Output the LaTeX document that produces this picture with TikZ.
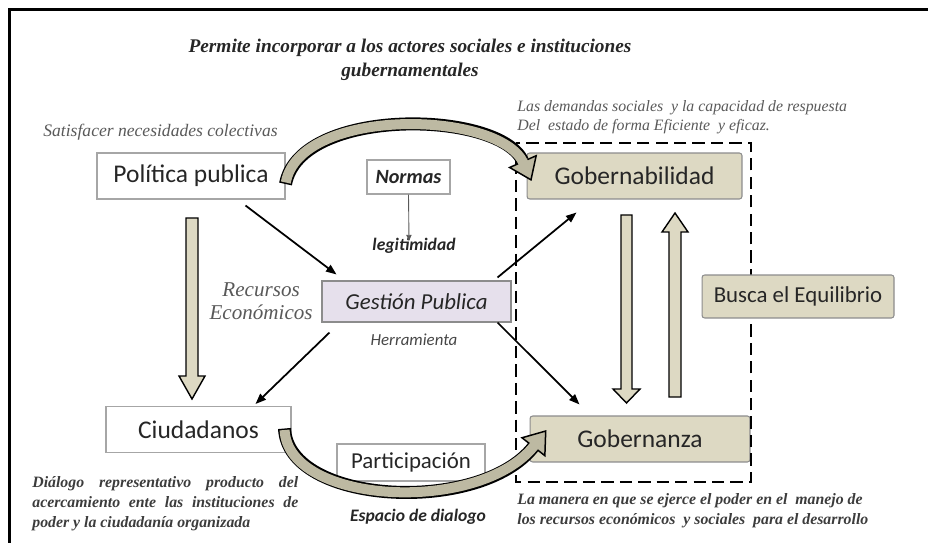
\documentclass[tikz,border=0pt]{standalone}
\usepackage{fontspec}
\setmainfont{Liberation Serif}
\newfontfamily\carlito{Carlito}
\usetikzlibrary{arrows.meta,calc}

\definecolor{tanc}{HTML}{DDD9C3}
\definecolor{lila}{HTML}{E6E0EC}
\definecolor{curvac}{HTML}{BDB9A2}
\definecolor{borde}{HTML}{A6A6A6}
\definecolor{bordeosc}{HTML}{8C8C8C}
\definecolor{negrot}{HTML}{262626}
\definecolor{grist}{HTML}{595959}

\tikzset{
  caja/.style={draw=borde, fill=white, line width=0.6pt, inner sep=0pt,
    text=negrot, font=\carlito\fontsize{14.5}{17}\selectfont},
  cajatan/.style={caja, fill=tanc, draw=bordeosc, rounded corners=1.5pt},
  flecha/.style={line width=1pt, -{Triangle[length=6pt,width=4.5pt]}},
  bloque/.style={draw=black, fill=tanc, line width=0.8pt},
  curvaborde/.style={line width=7.4pt, draw=black,
    -{Triangle[length=12.5pt,width=18pt,fill=curvac,line width=0.85pt]}},
  curvarelleno/.style={line width=5.7pt, draw=curvac, shorten >=11pt, shorten <=0.85pt},
  nota/.style={inner sep=0pt, text=grist, font=\itshape\fontsize{10}{12}\selectfont},
  notanegra/.style={inner sep=0pt, text=negrot!90, font=\bfseries\itshape\fontsize{9}{11.3}\selectfont},
  sansnota/.style={inner sep=0pt, text=negrot, font=\carlito\bfseries\itshape\fontsize{10}{12}\selectfont}
}

\begin{document}
\begin{tikzpicture}[x=0.02cm,y=-0.02cm]
\useasboundingbox (0,0) rectangle (928,543);
% marco exterior
\draw[line width=1.3pt] (9.5,543) -- (9.5,9.5) -- (928,9.5);

% textos sueltos
\node[inner sep=0pt, align=center, text=negrot,
  font=\bfseries\itshape\fontsize{11}{13.6}\selectfont] (titulo) at (410,60)
  {Permite incorporar a los actores sociales e instituciones\\gubernamentales};
\node[nota] (satisf) at (160.5,132) {Satisfacer necesidades colectivas};
\node[nota, anchor=west, align=left, font=\itshape\fontsize{9}{10.8}\selectfont] (demandas) at (517,117)
  {Las demandas sociales\ \ y la capacidad de respuesta\\Del\ \ estado de forma Eficiente\ \ y eficaz.};
\node[nota, anchor=east, align=center, font=\itshape\fontsize{12}{13}\selectfont] (recursos) at (313,301)
  {Recursos\\Económicos};

% cajas
\node[caja, minimum width=3.76cm, minimum height=0.92cm] (pol) at (191,176) {Política publica};
\node[cajatan, minimum width=4.30cm, minimum height=0.92cm] (gobb) at (634.5,176) {Gobernabilidad};
\node[caja, minimum width=1.66cm, minimum height=0.68cm,
  font=\carlito\bfseries\itshape\fontsize{11.5}{13}\selectfont] (normas) at (408.5,177) {Normas};
\node[sansnota] (legit) at (414,246) {legitimidad};
\node[caja, fill=lila, draw=bordeosc, minimum width=3.78cm, minimum height=0.82cm,
  font=\carlito\itshape\fontsize{13}{15}\selectfont] (ges) at (416.5,301.5) {Gestión Publica};
\node[sansnota, font=\carlito\itshape\fontsize{9.6}{11}\selectfont, text=negrot!85] (herr) at (414,340) {Herramienta};
\node[caja, minimum width=3.70cm, minimum height=0.92cm] (ciud) at (198.5,429.5) {Ciudadanos};
\node[caja, minimum width=2.96cm, minimum height=0.74cm,
  font=\carlito\fontsize{13}{15}\selectfont] (part) at (411,462.5) {Participación};
\node[cajatan, minimum width=4.40cm, minimum height=0.92cm] (gobz) at (640,439) {Gobernanza};
\node[sansnota] (espacio) at (418,517) {Espacio de dialogo};
\node[notanegra, anchor=west, align=left] (manera) at (517,511)
  {La manera en que se ejerce el poder en el\ \ manejo de\\los recursos económicos\ \ y sociales\ \ para el desarrollo};
\node[notanegra, anchor=north west, text width=5.32cm, align=justify] (dialogo) at (32,476)
  {Diálogo representativo producto del\linebreak acercamiento ente las instituciones de\linebreak poder y la ciudadanía organizada};

% marco discontinuo
\draw[line width=1.6pt, dash pattern=on 7pt off 3.5pt] (516,143) rectangle (751,482);
\node[cajatan, minimum width=3.84cm, minimum height=0.86cm,
  font=\carlito\fontsize{13}{15}\selectfont] (busca) at (798,296.5) {Busca el Equilibrio};

% flechas finas
\draw[flecha] ($(pol.south east)+(-40,6)$) -- ($(ges.north west)+(15,-6)$);
\draw[flecha] ($(ges.south west)+(8,10)$) -- ($(ciud.north east)+(-36,-2)$);
\draw[flecha] ($(ges.north east)+(-14,-3)$) -- ($(gobb.south west)+(50,13)$);
\draw[flecha] ($(ges.south east)+(-14,0)$) -- ($(gobz.north west)+(50,-11)$);
\draw[line width=0.5pt, draw=grist, -{Triangle[length=3.5pt,width=3pt]}] (normas.south) -- ($(legit.north)+(-5,3)$);

% flechas de bloque
\draw[bloque] (186,218) -- (198,218) -- (198,376) -- (205,376) -- (192,399) -- (179,376) -- (186,376) -- cycle;
\draw[bloque] (621,215) -- (632,215) -- (632,389) -- (640,389) -- (626.5,403) -- (613,389) -- (621,389) -- cycle;
\draw[bloque] (669,397) -- (681,397) -- (681,232) -- (688,232) -- (675,213) -- (662,232) -- (669,232) -- cycle;

% flechas curvas
\draw[curvaborde] ($(pol.east)+(0,8)$) .. controls (300,106) and (500,110) .. ($(gobb.west)+(5,5)$);
\draw[curvarelleno] ($(pol.east)+(0,8)$) .. controls (300,106) and (500,110) .. ($(gobb.west)+(5,5)$);
\draw[curvaborde] ($(ciud.east)+(-7,-1)$) .. controls (288,505) and (480,515) .. ($(gobz.west)+(17,-9)$);
\draw[curvarelleno] ($(ciud.east)+(-7,-1)$) .. controls (288,505) and (480,515) .. ($(gobz.west)+(17,-9)$);
\end{tikzpicture}
\end{document}
